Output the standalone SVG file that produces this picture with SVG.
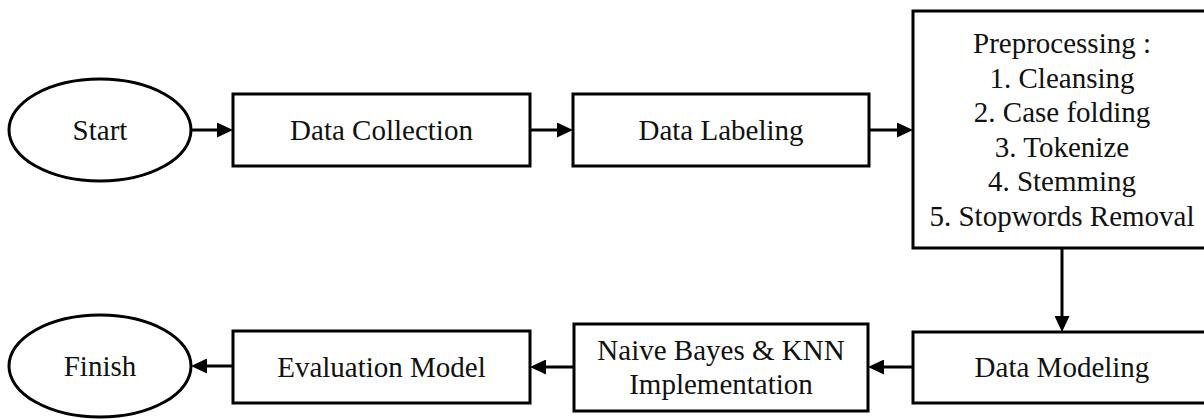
<svg xmlns="http://www.w3.org/2000/svg" width="1204" height="419" viewBox="0 0 1204 419">
  <style>
    .shape { fill: #ffffff; stroke: #000000; stroke-width: 3; }
    .label { font-family: 'Liberation Serif', serif; font-size: 29px; fill: #111111; text-anchor: middle; }
    .edge { fill: none; stroke: #000000; stroke-width: 3; marker-end: url(#arrow); }
  </style>
  <defs>
    <marker id="arrow" markerUnits="userSpaceOnUse" markerWidth="16" markerHeight="15" refX="3" refY="7.5" orient="auto">
      <path d="M0,0 L16,7.5 L0,15 Z" fill="#000000"/>
    </marker>
  </defs>
  <rect x="0" y="0" width="1204" height="419" fill="#ffffff"/>

  <!-- top row, left to right -->
  <g id="start">
    <ellipse class="shape" cx="100" cy="130" rx="91" ry="51"/>
    <text class="label" font-family="Liberation Serif, serif" x="100" y="140">Start</text>
  </g>
  <g id="data-collection">
    <rect class="shape" x="233" y="94" width="297" height="72"/>
    <text class="label" font-family="Liberation Serif, serif" x="381.5" y="140">Data Collection</text>
  </g>
  <g id="data-labeling">
    <rect class="shape" x="573" y="94" width="296" height="72"/>
    <text class="label" font-family="Liberation Serif, serif" x="721" y="140">Data Labeling</text>
  </g>
  <g id="preprocessing">
    <rect class="shape" x="913" y="11" width="298" height="237"/>
    <text class="label" font-family="Liberation Serif, serif" x="1062" y="53">Preprocessing :</text>
    <text class="label" font-family="Liberation Serif, serif" x="1062" y="87.5">1. Cleansing</text>
    <text class="label" font-family="Liberation Serif, serif" x="1062" y="122">2. Case folding</text>
    <text class="label" font-family="Liberation Serif, serif" x="1062" y="156.5">3. Tokenize</text>
    <text class="label" font-family="Liberation Serif, serif" x="1062" y="191">4. Stemming</text>
    <text class="label" font-family="Liberation Serif, serif" x="1062" y="225.5">5. Stopwords Removal</text>
  </g>

  <!-- bottom row, right to left -->
  <g id="data-modeling">
    <rect class="shape" x="913" y="332" width="298" height="71"/>
    <text class="label" font-family="Liberation Serif, serif" x="1062" y="377">Data Modeling</text>
  </g>
  <g id="naive-bayes-knn">
    <rect class="shape" x="574" y="324" width="294" height="87"/>
    <text class="label" font-family="Liberation Serif, serif" x="721" y="360">Naive Bayes &amp; KNN</text>
    <text class="label" font-family="Liberation Serif, serif" x="721" y="394">Implementation</text>
  </g>
  <g id="evaluation-model">
    <rect class="shape" x="233" y="331" width="297" height="72"/>
    <text class="label" font-family="Liberation Serif, serif" x="381.5" y="377">Evaluation Model</text>
  </g>
  <g id="finish">
    <ellipse class="shape" cx="100" cy="366" rx="91" ry="51"/>
    <text class="label" font-family="Liberation Serif, serif" x="100" y="376">Finish</text>
  </g>

  <!-- connectors: each line stops 13px short of the node, the marker supplies the tip -->
  <g id="connectors">
    <path class="edge" d="M191,130 H220"/>
    <path class="edge" d="M530,130 H560"/>
    <path class="edge" d="M869,130 H900"/>
    <path class="edge" d="M1062,248 V319"/>
    <path class="edge" d="M913,367 H881"/>
    <path class="edge" d="M574,367 H543"/>
    <path class="edge" d="M233,366 H204"/>
  </g>
</svg>
